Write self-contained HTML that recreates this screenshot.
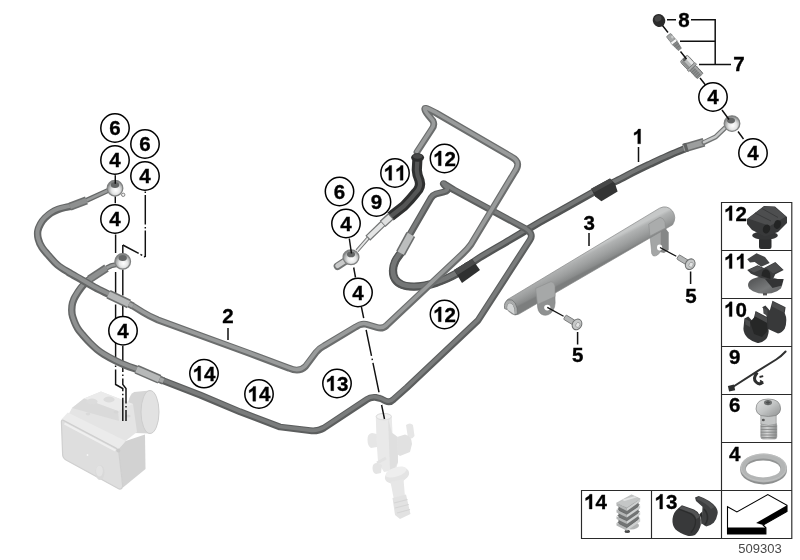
<!DOCTYPE html>
<html>
<head>
<meta charset="utf-8">
<style>
html,body{margin:0;padding:0;background:#fff;}
body{width:800px;height:560px;overflow:hidden;font-family:"Liberation Sans",sans-serif;}
svg{display:block;position:absolute;left:0;top:0;}
text{font-family:"Liberation Sans",sans-serif;}
#labels,#plabels{opacity:.999;}
.b{font-weight:bold;font-size:20.5px;fill:#000;text-anchor:middle;stroke:#000;stroke-width:.35;}
.c{fill:#fff;stroke:#000;stroke-width:1.5;}
.dd{stroke:#111;stroke-width:1.45;fill:none;stroke-dasharray:26 2.5 1.5 2.5;}
.ln{stroke:#111;stroke-width:1.5;fill:none;}
.po{fill:none;stroke:#6b6d6d;stroke-width:6.8;stroke-linecap:round;stroke-linejoin:round;}
.pi{fill:none;stroke:#999b9b;stroke-width:3.6;stroke-linecap:round;stroke-linejoin:round;}
.ho{fill:none;stroke:#525454;stroke-width:7.3;stroke-linecap:round;stroke-linejoin:round;}
.ho2{fill:none;stroke:#646666;stroke-width:7.4;stroke-linecap:round;stroke-linejoin:round;}
.hi{fill:none;stroke:#747676;stroke-width:3.8;stroke-linecap:round;stroke-linejoin:round;}
.hi2{fill:none;stroke:#8f9191;stroke-width:4;stroke-linecap:round;stroke-linejoin:round;}
.bo{fill:none;stroke:#2f3030;stroke-width:10.2;stroke-linecap:butt;stroke-linejoin:round;}
.bi{fill:none;stroke:#545555;stroke-width:4.2;stroke-linecap:butt;stroke-linejoin:round;}
.so{fill:none;stroke:#6c6e6e;stroke-width:9.4;stroke-linecap:butt;}
.si{fill:none;stroke:#b6b8b8;stroke-width:6.2;stroke-linecap:butt;}
.sd{fill:none;stroke:#8e9090;stroke-width:5;stroke-linecap:butt;}
.pn{fill:#fff;stroke:#2a2a2a;stroke-width:1.15;}
</style>
</head>
<body>
<svg width="800" height="560" viewBox="0 0 800 560">
<defs>
<!-- PATHS -->
<path id="pU" d="M133,306.2 L143,312.3 Q150,316.6 158,320 L200,335.4 L250,353.6 L289,368.2 Q299,372.8 305.5,366.5 L316,352.5 Q319,348.5 324,346 L355.5,327.2 Q361,323.2 366,324.3 L377,327.5 Q382.5,329.2 386.5,325.6 L462,254.5 Q467.5,249.5 471,244.5 L514.5,172.5 Q522,162.5 512,157.2 L436,113 L429,109.5 Q421,105.5 428,115 L433,121 Q435,125 432,129 L417,152"/>
<path id="pL" d="M160,379.5 L200,395 L240,411.8 L280,427 L310,430.7 Q318,431.6 324,428 L366.5,399.8 Q370.5,396.9 375.5,397.4 L381,398.8 L386,401.2 Q390,403 393.5,399.5 L407,387.5 L478,320.5 L530,240 Q534,234 526,229 L454,190 L446,185 Q440,181 447,188 Q449,191 444,192 L436,194 Q433,195 431,198 L409,236"/>
<path id="hA" d="M109.0,294.5 C106.7,293.3 99.5,289.9 95.0,287.5 C90.5,285.1 86.5,282.6 82.0,280.0 C77.5,277.4 72.1,274.5 68.0,272.0 C63.9,269.5 60.7,267.7 57.5,265.0 C54.3,262.3 51.6,258.9 49.0,256.0 C46.4,253.1 43.8,250.3 42.0,247.5 C40.2,244.7 39.0,241.8 38.3,239.0 C37.6,236.2 37.4,233.5 37.8,231.0 C38.2,228.5 39.3,226.2 40.5,224.0 C41.7,221.8 43.2,219.8 45.0,218.0 C46.8,216.2 48.8,214.4 51.0,213.0 C53.2,211.6 55.7,210.4 58.0,209.5 C60.3,208.6 62.8,208.0 65.0,207.5 C67.2,207.0 70.0,206.6 71.0,206.4"/>
<path id="hB" d="M137.0,369.5 C135.2,368.8 129.7,367.0 126.0,365.5 C122.3,364.0 118.7,362.4 115.0,360.5 C111.3,358.6 106.8,356.1 103.8,354.3 C100.8,352.5 99.3,351.4 97.0,349.5 C94.7,347.6 92.4,345.4 90.0,343.0 C87.6,340.6 84.8,337.3 82.8,335.0 C80.8,332.7 79.4,331.2 78.0,329.0 C76.6,326.8 75.5,324.5 74.5,322.0 C73.5,319.5 72.4,316.7 72.0,314.0 C71.6,311.3 71.7,308.5 72.0,306.0 C72.3,303.5 73.0,301.3 74.0,299.0 C75.0,296.7 76.4,294.6 77.9,292.3 C79.4,290.1 81.0,287.7 83.0,285.5 C85.0,283.3 88.8,280.1 90.0,279.0"/>
<path id="h1" d="M400.8,253.0 C399.9,254.4 396.5,258.5 395.2,261.4 C393.9,264.3 393.0,267.4 393.0,270.4 C393.0,273.4 393.6,277.0 395.2,279.4 C396.8,281.8 399.4,283.8 402.5,285.0 C405.6,286.2 409.9,286.6 413.7,286.7 C417.4,286.8 421.2,286.2 425.0,285.5 C428.8,284.8 432.4,283.9 436.2,282.7 C439.9,281.5 444.1,279.7 447.5,278.2 C450.9,276.7 453.1,275.7 456.5,273.7 C459.9,271.7 464.1,268.7 468.0,266.0 C471.9,263.3 473.0,261.9 480.0,257.5 C487.0,253.2 500.0,245.8 510.0,239.9 C520.0,234.0 531.7,227.0 540.0,222.2 C548.3,217.4 551.2,215.9 560.0,211.0 C568.8,206.1 585.2,196.7 592.5,192.7 C599.8,188.7 599.4,189.0 604.0,186.8 C608.6,184.6 614.8,181.9 620.0,179.3 C625.2,176.7 630.0,173.9 635.0,171.4 C640.0,168.9 644.7,166.7 650.0,164.2 C655.3,161.7 661.3,158.8 667.0,156.3 C672.7,153.8 681.2,150.4 684.0,149.2"/>
<path id="h1a" d="M400.8,253.0 C399.9,254.4 396.5,258.5 395.2,261.4 C393.9,264.3 393.0,267.4 393.0,270.4 C393.0,273.4 393.6,277.0 395.2,279.4 C396.8,281.8 399.4,283.8 402.5,285.0 C405.6,286.2 409.9,286.6 413.7,286.7 C417.4,286.8 421.2,286.2 425.0,285.5 C428.8,284.8 432.4,283.9 436.2,282.7 C439.9,281.5 444.1,279.7 447.5,278.2 C450.9,276.7 453.1,275.7 456.5,273.7 C459.9,271.7 466.1,267.3 468.0,266.0"/>
<path id="h11" d="M417.5,157 L416.8,170 Q417,175 419.5,180.5 Q421.5,187 416,192.5 Q410,200 404,206 L390.5,216.5"/>
</defs>
<rect width="800" height="560" fill="#fff"/>
<!--GHOST-->
<g id="ghost">
<!-- ABS unit -->
<path d="M134,392 L150,390.5 L150,433.5 L134,433 Z" fill="#d6d6d6"/>
<ellipse cx="135" cy="412.5" rx="8" ry="20.5" fill="#d6d6d6"/>
<ellipse cx="150" cy="412" rx="9" ry="21.5" fill="#e2e2e2" stroke="#cdcdcd" stroke-width="1"/>
<polygon points="72,408 84,398.5 101,391.5 133,404 137,432 119,446 66,419" fill="#e4e4e4"/>
<path d="M84,398.5 L101,391.5 L133,404 L118,411 Z" fill="#ebebeb"/>
<path d="M72,408 L84,398.5 L118,411 L119,421 Z" fill="#dadada"/>
<ellipse cx="92" cy="401.5" rx="5.5" ry="3" fill="#dcdcdc"/>
<ellipse cx="109" cy="399.5" rx="5.5" ry="3" fill="#dcdcdc"/>
<ellipse cx="100" cy="407" rx="2.6" ry="1.6" fill="#dadada"/>
<ellipse cx="116" cy="412" rx="2.6" ry="1.6" fill="#d6d6d6"/>
<ellipse cx="128" cy="416" rx="2.6" ry="1.6" fill="#d6d6d6"/>
<ellipse cx="88" cy="414" rx="2.4" ry="1.4" fill="#dadada"/>
<path d="M61.4,419.6 L67.8,412.4 L125.7,441 L118.2,449.6 Z" fill="#ebebeb"/>
<path d="M118.2,449.6 L125.7,441 L145,434.5 L145.5,469 L123,487.5 Z" fill="#d2d2d2"/>
<path d="M61.4,421.6 Q61.4,419.6 63.4,420.4 L116.5,448.4 Q118.6,449.6 118.8,452 L122.6,485 Q122.8,489.5 119,489 L66,460 Q62.6,458 62.6,454 Z" fill="#dedede" stroke="#cfcfcf" stroke-width="1.2"/>
<path d="M64.5,423.5 L115.5,450.5" stroke="#efefef" stroke-width="2" fill="none"/>
<ellipse cx="100" cy="472.5" rx="4.6" ry="7.6" fill="#d9d9d9"/>
<ellipse cx="99.4" cy="471" rx="3.4" ry="5.6" fill="#e3e3e3"/>
<circle cx="118.3" cy="450.6" r="2" fill="#cacaca"/>
<circle cx="87.5" cy="455" r=".9" fill="#f6f6f6"/>
<!-- master cylinder -->
<g>
<path d="M406,425 Q410,422 413,425 L414.5,436 Q412,440 408,438 Z" fill="#e6e6e6"/>
<path d="M397,437 L405,434.5 Q412,436 412,444 L410,452 L400,456 L397,454 Z" fill="#e1e1e1"/>
<path d="M367.5,440 Q367,434 372,433 L377,434 L377,447 L371,448 Q367.5,446 367.5,440 Z" fill="#e6e6e6"/>
<path d="M375.8,417 Q375.8,413.2 383.7,413.2 Q391.8,413.2 391.8,417 L392.5,433 L397.5,437 L398,462 L396,470 L384,472 L378,462 L376.5,440 Z" fill="#e9e9e9"/>
<path d="M388,418 L392,433 L397.5,437 L398,462 L394,470 L390,470 Z" fill="#dfdfdf"/>
<ellipse cx="383.8" cy="416.6" rx="7.6" ry="3.2" fill="#f3f3f3" stroke="#dcdcdc" stroke-width="1"/>
<path d="M372.5,468 Q372.5,463 377,463 L382,465 L381,473 L376,474 Q372.5,473 372.5,468 Z" fill="#e4e4e4"/>
<path d="M377,463 L386,458" stroke="#e2e2e2" stroke-width="3"/>
<ellipse cx="397" cy="475.5" rx="12.5" ry="7.5" fill="#e4e4e4" transform="rotate(-18 397 475.5)"/>
<ellipse cx="396" cy="472" rx="11" ry="4.6" fill="#eeeeee" transform="rotate(-18 396 472)"/>
<path d="M390.5,482 L403.5,479 L405,497 L394,500 Z" fill="#e7e7e7"/>
<path d="M392.5,498 L406,494.5 L410.5,514 L400,519 L395,515 Z" fill="#e2e2e2"/>
<path d="M394,503 L407.5,499.5 M395,508 L408.7,504.5 M397,513 L410,509.5" stroke="#d5d5d5" stroke-width="1.2"/>
</g>
</g>
<g id="backlines">
<path class="dd" d="M361.3,306.5L384.5,419" style="stroke-dasharray:50.5 2.8 1.5 2.8 60"/>
<path d="M363.7,318.2L366,329.8M378.5,392.4L381,405.2" stroke="#fff" stroke-width="3.5"/>
<path class="dd" d="M115.6,234.5V253M115.6,272V384.5L122.8,388.5V421"/>
<path class="dd" d="M122.8,245V255M122.8,269.5V316M122.8,346V384.5L126,388.5V421"/>
</g>
<!--PIPES-->
<g id="pipes">
<use href="#h1" class="ho"/><use href="#h1a" class="ho" style="stroke-width:8.3"/><use href="#h1" transform="translate(-.2,-.55)" class="hi"/><use href="#h1a" transform="translate(-.2,-.6)" class="hi" style="stroke-width:4.6"/>
<use href="#pL" class="po" style="stroke:#5c5e5e"/><use href="#pL" transform="translate(-.2,-.55)" class="pi" style="stroke:#7a7c7c"/>
<use href="#pU" class="po"/><use href="#pU" transform="translate(-.2,-.55)" class="pi"/>
<use href="#hB" class="ho2"/><use href="#hB" transform="translate(-.2,-.55)" class="hi2"/>
<use href="#hA" class="ho2"/><use href="#hA" transform="translate(-.2,-.55)" class="hi2"/>
<use href="#h11" class="bo"/><use href="#h11" class="bi"/>
</g>
<!--FITTINGS-->
<g id="fittings">
<!-- sleeves -->
<defs>
<radialGradient id="gBj" cx=".55" cy=".62" r=".58">
<stop offset="0" stop-color="#ffffff"/><stop offset=".45" stop-color="#e6e7e7"/><stop offset=".8" stop-color="#a9abab"/><stop offset="1" stop-color="#7e8080"/>
</radialGradient>
</defs>
<g>
<path d="M108.5,294.3 L129,304" class="so"/><path d="M108.5,294.3 L129,304" class="si"/>
<path d="M129,304 L133,306" stroke="#6c6e6e" stroke-width="7" fill="none"/><path d="M129,304 L133,306" stroke="#a4a6a6" stroke-width="4" fill="none"/>
<path d="M136.5,369.3 L159.5,379.3" class="so"/><path d="M136.5,369.3 L159.5,379.3" class="si"/>
<path d="M159.5,379.3 L163.5,381" stroke="#6c6e6e" stroke-width="7.4" fill="none"/><path d="M159.5,379.3 L163.5,381" stroke="#a4a6a6" stroke-width="4.4" fill="none"/>
<path d="M86.5,200.4 L70,206.6" class="so" style="stroke-width:8.2"/><path d="M86.5,200.4 L70,206.6" class="sd"/>
<path d="M106.5,268 L89.6,279.2" class="so" style="stroke-width:8.2"/><path d="M106.5,268 L89.6,279.2" class="sd"/>
<path d="M410.8,234.5 L400.6,253.2" class="so" style="stroke-width:10"/><path d="M410.8,234.5 L400.6,253.2" class="si" style="stroke-width:6.8;stroke:#bcbebe"/>
<path d="M683.5,148.3 L704,142.2" class="so" style="stroke-width:9"/><path d="M683.5,148.3 L704,142.2" class="sd" style="stroke:#9c9e9e;stroke-width:5.8"/><path d="M684.5,148 L687.5,147.1" class="so" style="stroke-width:9;stroke:#5f6161"/>
</g>
<!-- upper-left banjo (neck + ring) -->
<path d="M86.5,200.4 L108,190.5" stroke="#666868" stroke-width="5.2" fill="none"/>
<path d="M86.5,200.4 L108,190.5" stroke="#999b9b" stroke-width="2.6" fill="none"/>
<circle cx="123.2" cy="194.8" r="1.7" fill="#f2f2f2" stroke="#777" stroke-width=".9"/>
<circle cx="115" cy="188.3" r="7.8" fill="url(#gBj)" stroke="#808282" stroke-width="1.3"/>
<ellipse cx="115" cy="185" rx="4.2" ry="2.9" fill="#646666"/>
<!-- lower-left banjo -->
<path d="M106.5,268 L111,265.8 L117,264.5" stroke="#666868" stroke-width="5.2" fill="none" stroke-linejoin="round"/>
<path d="M106.5,268 L111,265.8 L117,264.5" stroke="#999b9b" stroke-width="2.6" fill="none" stroke-linejoin="round"/>
<circle cx="122.7" cy="261.4" r="7.8" fill="url(#gBj)" stroke="#808282" stroke-width="1.3"/>
<ellipse cx="122.7" cy="258" rx="4.2" ry="2.9" fill="#646666"/>
<!-- middle banjo (part 9 end) -->
<path d="M368,238.2 L357,250.8" stroke="#737575" stroke-width="3.8" fill="none"/>
<path d="M368,238.2 L357,250.8" stroke="#e3e4e4" stroke-width="1.8" fill="none"/>
<path d="M383.2,223.3 L367.8,238.2" stroke="#737575" stroke-width="7" fill="none"/>
<path d="M383.2,223.3 L368.6,237.4" stroke="#e4e5e5" stroke-width="4.6" fill="none"/>
<path d="M391,216.2 L382.6,223.9" stroke="#737575" stroke-width="8.4" fill="none"/>
<path d="M390.4,216.8 L383.2,223.3" stroke="#dfe0e0" stroke-width="5.8" fill="none"/>
<path d="M337.5,266.2 L347,260" stroke="#737575" stroke-width="7.6" fill="none" stroke-linecap="round"/>
<path d="M337.5,265.8 L347,259.6" stroke="#c9caca" stroke-width="4.6" fill="none" stroke-linecap="round"/>
<ellipse cx="351" cy="257.2" rx="7.9" ry="7.4" fill="url(#gBj)" stroke="#808282" stroke-width="1.3"/>
<ellipse cx="351" cy="254.4" rx="4" ry="2.8" fill="#646666"/>
<!-- right banjo (hose 1 end) -->
<path d="M704,142.4 L715.5,137 L727,126" stroke="#737575" stroke-width="5" fill="none" stroke-linecap="round" stroke-linejoin="round"/>
<path d="M704,142.2 L715.5,136.8 L727,125.8" stroke="#c6c8c8" stroke-width="2.4" fill="none" stroke-linecap="round" stroke-linejoin="round"/>
<circle cx="732" cy="123.6" r="7.8" fill="url(#gBj)" stroke="#808282" stroke-width="1.3"/>
<ellipse cx="731" cy="120.6" rx="4" ry="2.8" fill="#646666"/>
<!-- hose 11 top collar -->
<ellipse cx="417.6" cy="157.5" rx="6.5" ry="4.3" fill="#2c2d2d"/><ellipse cx="417.6" cy="156.3" rx="4.6" ry="2.4" fill="#484949"/>
<!-- black clips on hose 1 -->
<polygon points="454,270 472,259 480,270 462,283" fill="#2f3030"/>
<polygon points="454,270 472,259 475.5,263.5 457.5,275" fill="#4a4b4b"/>
<polygon points="591.2,188.8 610,178.6 615,183.5 617.6,191.4 601.4,201.3 595,196.4" fill="#333434"/>
<polygon points="591.2,188.8 610,178.6 613,182 594,192.5" fill="#474848"/>
<!-- top-right small parts -->
<ellipse cx="659" cy="20.5" rx="6.2" ry="6.6" fill="#2b2b2b" transform="rotate(-30 659 20.5)"/>
<ellipse cx="658" cy="18.5" rx="3.5" ry="3" fill="#454545" transform="rotate(-30 658 18.5)"/>
<g transform="translate(674.2,42.2) rotate(52)">
<rect x="-9.2" y="-2.8" width="7.4" height="5.6" rx="1" fill="#a4a6a6" stroke="#777979" stroke-width=".7"/>
<rect x="-6.5" y="-2.8" width="2.5" height="2.2" fill="#c9cbcb"/>
<rect x="-2" y="-3.1" width="3" height="6.2" fill="#f4f4f4" stroke="#8a8c8c" stroke-width=".6"/>
<path d="M1,-2.9 L9.2,-1.9 L9.2,1.9 L1,2.9 Z" fill="#858787" stroke="#6a6c6c" stroke-width=".6"/>
<path d="M3.5,-2.6v5.2M6,-2.3v4.6" stroke="#6a6c6c" stroke-width=".6"/>
</g>
<g transform="translate(691.75,67) rotate(47)">
<rect x="-12" y="-5" width="11.2" height="10" rx="2.2" fill="#b9bbbb" stroke="#666868" stroke-width=".8"/>
<rect x="-11" y="-4.3" width="9.6" height="3" fill="#e4e5e5"/>
<rect x="-11" y="1.6" width="9.6" height="2.8" fill="#8e9090"/>
<ellipse cx="-10.4" cy="0" rx="1.4" ry="2" fill="#5f6161"/>
<rect x="-1.2" y="-5.4" width="2.6" height="10.8" fill="#a9abab" stroke="#666868" stroke-width=".6"/>
<rect x="1.4" y="-4" width="11" height="8" rx="1" fill="#8c8e8e" stroke="#5f6161" stroke-width=".7"/>
<path d="M4,-4v8M6.2,-4v8M8.4,-4v8M10.6,-4v8" stroke="#666868" stroke-width=".7"/>
<rect x="1.8" y="-3.4" width="10.2" height="1.8" fill="#b0b2b2" opacity=".7"/>
</g>
</g>
<!--BRACKET-->
<g id="bracket">
<defs>
<linearGradient id="gB" gradientUnits="userSpaceOnUse" x1="586" y1="252" x2="594" y2="267.5">
<stop offset="0" stop-color="#c6c8c8"/><stop offset=".18" stop-color="#b0b2b2"/><stop offset=".6" stop-color="#9c9e9e"/><stop offset=".9" stop-color="#8a8c8c"/><stop offset="1" stop-color="#7c7e7e"/>
</linearGradient>
</defs>
<!-- tab lower parts (behind tube) -->
<path d="M537.5,296 L555,288 L555,299 Q556,308 551,313 Q546,317 541,314 Q537.5,311 537.5,306 Z" fill="#8f9191" stroke="#7f8181" stroke-width=".6"/>
<ellipse cx="547.3" cy="307.6" rx="3.1" ry="2.8" fill="#fff"/>
<path d="M660,222 L665,227.5 L668.7,232.5 L668.7,250 L664,253 L660,252 Z" fill="#858787"/>
<path d="M649,227 L661,221 L661,250.5 Q658,256.5 653.5,256 Q651,254.5 651.5,250 Z" fill="#a4a6a6" stroke="#8a8c8c" stroke-width=".6"/>
<ellipse cx="659.6" cy="247.6" rx="2.6" ry="3" fill="#fff"/>
<!-- main half-tube -->
<path d="M507.4,299.6 L659.5,208.2 Q667,204.5 672.5,211 Q677,217.5 672.6,224.8 L519,314 Q515,316.2 511.5,313.6 Q502,307 507.4,299.6 Z" fill="url(#gB)" stroke="#858787" stroke-width=".7"/>
<!-- left open end arch -->
<path d="M504.6,308.6 Q503.6,302 508,299.8 Q512.5,298.6 515.2,303 Q518,308 517.4,314 L514.6,314.6 Q515,309 513,305.2 Q511,302.6 508.6,303.6 Q506.6,305 507.4,309.6 Z" fill="#a9abab" stroke="#6f7171" stroke-width=".8"/>
<path d="M507.4,309.6 Q506.6,305 508.6,303.6 Q511,302.6 513,305.2 Q515,309 514.6,314.6 Z" fill="#d4d6d6"/>
<!-- tab upper parts wrapping the tube -->
<path d="M535.6,288.4 L551,281.6 Q554.5,282 555,286 L555,296.5 L537.5,304.5 Z" fill="#a6a8a8" stroke="#8d8f8f" stroke-width=".6"/>
<path d="M648.7,224 L660,217.3 Q663.5,218 665,222 L665.4,228 L650,236 Z" fill="#aaacac" stroke="#8d8f8f" stroke-width=".6"/>
<!-- screws -->
<g transform="translate(574.6,323) rotate(31)">
<rect x="-11.5" y="-2.5" width="11" height="5" rx="1" fill="#b4b6b6" stroke="#707272" stroke-width=".8"/>
<ellipse cx="2.8" cy="0" rx="4.6" ry="5.6" fill="#c6c8c8" stroke="#6d6f6f" stroke-width="1"/>
<ellipse cx="3.8" cy="0" rx="2" ry="2.6" fill="#e4e5e5" stroke="#8a8c8c" stroke-width=".6"/>
</g>
<g transform="translate(687.8,262.8) rotate(31)">
<rect x="-11.5" y="-2.5" width="11" height="5" rx="1" fill="#b4b6b6" stroke="#707272" stroke-width=".8"/>
<ellipse cx="2.8" cy="0" rx="4.6" ry="5.6" fill="#c6c8c8" stroke="#6d6f6f" stroke-width="1"/>
<ellipse cx="3.8" cy="0" rx="2" ry="2.6" fill="#e4e5e5" stroke="#8a8c8c" stroke-width=".6"/>
</g>
</g>
<!--LINES-->
<g id="lines">
<!-- leaders -->
<path class="ln" d="M638.5,147V162M228,328V340M589,233V246M690.6,271.5V284M577.6,332V344.6"/>
<path class="ln" d="M667,19.8H676M691,19.8H715.2V64.5M680,41.2H715.2M699,64.5H731"/>
<!-- dash-dot -->
<path class="dd" d="M115.3,175.2V183.8" style="stroke-dasharray:none"/>
<path class="dd" d="M115.3,196.6V203.2" style="stroke-dasharray:none"/>
<path class="dd" d="M145.3,191.5V257" style="stroke-dasharray:1.5 2 29.5 2.5"/>
<path class="dd" d="M145.3,257L122.8,245" style="stroke-dasharray:1.5 2 2 2 30"/>
<path class="dd" d="M349.3,238.5L351.5,253.5" style="stroke-dasharray:none"/>
<path class="dd" d="M353.7,267.5L355.5,277.5" style="stroke-dasharray:none"/>
<path class="dd" d="M662.5,25.5L668,32.5M680.5,51.5L686.5,59M700,78L705.5,85" style="stroke-dasharray:none"/>
<path class="dd" d="M722,110L729,119.5M738,131.5L743.5,139" style="stroke-dasharray:none"/>
<path class="ln" style="stroke-width:1.3" d="M547.3,307.4L563.6,316.3M660,247.5L676.3,256.3"/>
</g>
<!--LABELS-->
<g id="labels">
<circle cx="115" cy="128" r="14.2" class="c"/><text x="109.30" y="135.20" class="b" style="text-anchor:start">6</text>
<circle cx="115" cy="160" r="14.2" class="c"/><text x="109.30" y="167.20" class="b" style="text-anchor:start">4</text>
<circle cx="145" cy="144" r="14.2" class="c"/><text x="139.30" y="151.20" class="b" style="text-anchor:start">6</text>
<circle cx="145" cy="176" r="14.2" class="c"/><text x="139.30" y="183.20" class="b" style="text-anchor:start">4</text>
<circle cx="115" cy="219" r="14.2" class="c"/><text x="109.30" y="226.20" class="b" style="text-anchor:start">4</text>
<circle cx="123" cy="330.8" r="14.2" class="c"/><text x="117.30" y="338.00" class="b" style="text-anchor:start">4</text>
<circle cx="204" cy="373.6" r="14.2" class="c"/><path d="M806,0H525V1059Q371,915 162,846V1101Q272,1137 401,1237.5Q530,1338 578,1472H806Z" transform="translate(192.60,380.80) scale(0.01001,-0.01001)" fill="#000" stroke="#000" stroke-width="34"/><text x="204.00" y="380.80" class="b" style="text-anchor:start">4</text>
<circle cx="259" cy="394" r="14.2" class="c"/><path d="M806,0H525V1059Q371,915 162,846V1101Q272,1137 401,1237.5Q530,1338 578,1472H806Z" transform="translate(247.60,401.20) scale(0.01001,-0.01001)" fill="#000" stroke="#000" stroke-width="34"/><text x="259.00" y="401.20" class="b" style="text-anchor:start">4</text>
<circle cx="337" cy="383.5" r="14.2" class="c"/><path d="M806,0H525V1059Q371,915 162,846V1101Q272,1137 401,1237.5Q530,1338 578,1472H806Z" transform="translate(325.60,390.70) scale(0.01001,-0.01001)" fill="#000" stroke="#000" stroke-width="34"/><text x="337.00" y="390.70" class="b" style="text-anchor:start">3</text>
<circle cx="358" cy="292.5" r="14.2" class="c"/><text x="352.30" y="299.70" class="b" style="text-anchor:start">4</text>
<circle cx="346" cy="223.5" r="14.2" class="c"/><text x="340.30" y="230.70" class="b" style="text-anchor:start">4</text>
<circle cx="339.5" cy="191.5" r="14.2" class="c"/><text x="333.80" y="198.70" class="b" style="text-anchor:start">6</text>
<circle cx="376.5" cy="202" r="14.2" class="c"/><text x="370.80" y="209.20" class="b" style="text-anchor:start">9</text>
<circle cx="395" cy="173" r="14.2" class="c"/><path d="M806,0H525V1059Q371,915 162,846V1101Q272,1137 401,1237.5Q530,1338 578,1472H806Z" transform="translate(383.60,180.20) scale(0.01001,-0.01001)" fill="#000" stroke="#000" stroke-width="34"/><path d="M806,0H525V1059Q371,915 162,846V1101Q272,1137 401,1237.5Q530,1338 578,1472H806Z" transform="translate(395.00,180.20) scale(0.01001,-0.01001)" fill="#000" stroke="#000" stroke-width="34"/>
<circle cx="444.5" cy="158.5" r="14.2" class="c"/><path d="M806,0H525V1059Q371,915 162,846V1101Q272,1137 401,1237.5Q530,1338 578,1472H806Z" transform="translate(433.10,165.70) scale(0.01001,-0.01001)" fill="#000" stroke="#000" stroke-width="34"/><text x="444.50" y="165.70" class="b" style="text-anchor:start">2</text>
<circle cx="444.5" cy="314.5" r="14.2" class="c"/><path d="M806,0H525V1059Q371,915 162,846V1101Q272,1137 401,1237.5Q530,1338 578,1472H806Z" transform="translate(433.10,321.70) scale(0.01001,-0.01001)" fill="#000" stroke="#000" stroke-width="34"/><text x="444.50" y="321.70" class="b" style="text-anchor:start">2</text>
<circle cx="713" cy="97" r="14.2" class="c"/><text x="707.30" y="104.20" class="b" style="text-anchor:start">4</text>
<circle cx="753" cy="153" r="14.2" class="c"/><text x="747.30" y="160.20" class="b" style="text-anchor:start">4</text>
<path d="M806,0H525V1059Q371,915 162,846V1101Q272,1137 401,1237.5Q530,1338 578,1472H806Z" transform="translate(632.50,143.80) scale(0.01001,-0.01001)" fill="#000" stroke="#000" stroke-width="34"/>
<text x="222.30" y="323.20" class="b" style="text-anchor:start">2</text>
<text x="583.60" y="229.60" class="b" style="text-anchor:start">3</text>
<text x="685.30" y="303.20" class="b" style="text-anchor:start">5</text>
<text x="571.90" y="362.40" class="b" style="text-anchor:start">5</text>
<text x="733.30" y="71.00" class="b" style="text-anchor:start">7</text>
<text x="678.30" y="27.00" class="b" style="text-anchor:start">8</text>
<text x="760" y="552.5" font-size="13" fill="#484848" text-anchor="middle">509303</text>
</g>
<!--PANEL-->
<g id="panel">
<defs>
<linearGradient id="gDisc" x1="0" y1="0" x2="1" y2="1"><stop offset="0" stop-color="#4a4b4c"/><stop offset=".6" stop-color="#77797a"/><stop offset="1" stop-color="#5a5b5c"/></linearGradient>
<linearGradient id="gHead" x1="0" y1="0" x2="1" y2="1"><stop offset="0" stop-color="#e2e3e3"/><stop offset=".5" stop-color="#c2c4c4"/><stop offset="1" stop-color="#8f9191"/></linearGradient>
<linearGradient id="gThr" x1="0" y1="0" x2="1" y2="0"><stop offset="0" stop-color="#a2a4a4"/><stop offset=".4" stop-color="#d6d7d7"/><stop offset="1" stop-color="#8a8c8c"/></linearGradient>
</defs>
<path class="pn" d="M721.5,202.5 H791.8 V538.5 H581.5 V490.5 H721.5 Z"/>
<path class="ln" style="stroke:#2a2a2a;stroke-width:1.15" d="M721.5,250.5H792M721.5,298.5H792M721.5,346.5H792M721.5,394.5H792M721.5,442.5H792M721.5,490.5H792M651.5,490.5V538.5M721.5,490.5V538.5"/>
<g id="plabels"><path d="M806,0H525V1059Q371,915 162,846V1101Q272,1137 401,1237.5Q530,1338 578,1472H806Z" transform="translate(724.00,220.60) scale(0.01001,-0.01001)" fill="#000" stroke="#000" stroke-width="34"/><text x="735.40" y="220.60" class="b" style="text-anchor:start">2</text><path d="M806,0H525V1059Q371,915 162,846V1101Q272,1137 401,1237.5Q530,1338 578,1472H806Z" transform="translate(724.00,268.60) scale(0.01001,-0.01001)" fill="#000" stroke="#000" stroke-width="34"/><path d="M806,0H525V1059Q371,915 162,846V1101Q272,1137 401,1237.5Q530,1338 578,1472H806Z" transform="translate(735.40,268.60) scale(0.01001,-0.01001)" fill="#000" stroke="#000" stroke-width="34"/><path d="M806,0H525V1059Q371,915 162,846V1101Q272,1137 401,1237.5Q530,1338 578,1472H806Z" transform="translate(724.00,316.60) scale(0.01001,-0.01001)" fill="#000" stroke="#000" stroke-width="34"/><text x="735.40" y="316.60" class="b" style="text-anchor:start">0</text><text x="729.00" y="364.40" class="b" style="text-anchor:start">9</text><text x="729.00" y="412.40" class="b" style="text-anchor:start">6</text><text x="729.00" y="460.60" class="b" style="text-anchor:start">4</text><path d="M806,0H525V1059Q371,915 162,846V1101Q272,1137 401,1237.5Q530,1338 578,1472H806Z" transform="translate(584.00,509.00) scale(0.01001,-0.01001)" fill="#000" stroke="#000" stroke-width="34"/><text x="595.40" y="509.00" class="b" style="text-anchor:start">4</text><path d="M806,0H525V1059Q371,915 162,846V1101Q272,1137 401,1237.5Q530,1338 578,1472H806Z" transform="translate(654.50,509.00) scale(0.01001,-0.01001)" fill="#000" stroke="#000" stroke-width="34"/><text x="665.90" y="509.00" class="b" style="text-anchor:start">3</text></g>
<!-- 12 double clip -->
<g>
<rect x="759" y="238" width="12.5" height="11" rx="2" fill="#2c2d2e"/>
<ellipse cx="765" cy="235.5" rx="12.8" ry="4.2" fill="#343536"/>
<path d="M747,219 L764,206 L775,206.5 L787,217 L787,223 L778,232 L765,236.5 L752,230 L747,224 Z" fill="#38393a"/>
<path d="M748,218.5 L764,206.6 L774.5,207 L786,216.5 L770,226 Z" fill="#4d4e4f"/>
<path d="M755,213 L771,221 M762,208.5 L778,217.5" stroke="#3a3b3c" stroke-width="1"/>
<ellipse cx="766.5" cy="229" rx="3.6" ry="4.6" fill="#232424" transform="rotate(20 766.5 229)"/>
<ellipse cx="777.5" cy="224.5" rx="3.4" ry="4.4" fill="#232424" transform="rotate(20 777.5 224.5)"/>
</g>
<!-- 11 clip -->
<g>
<ellipse cx="765" cy="285" rx="17" ry="8.8" fill="url(#gDisc)"/>
<rect x="763" y="293" width="4" height="2.4" fill="#555"/>
<path d="M765,279 L783.7,279 L782,285.5 L772.5,288 Z" fill="#333435"/>
<path d="M747.2,259.2 L756.5,253.2 L765,257 L769.7,263 L761.2,266.7 L754.7,262 L750,262.4 Z" fill="#444546"/>
<path d="M747.2,270 L757.5,265.3 L764,268 L775.3,262 L783.7,270 L775.3,274.2 L772.5,280 L761.2,278 L751,273.8 Z" fill="#3c3d3e"/>
<path d="M749,269.8 L757.5,266 L763,268.5 L754,272.5 Z" fill="#515253"/>
<path d="M766,267.5 L775.3,262.8 L782,269.5 L773,273.5 Z" fill="#4c4d4e"/>
<path d="M761.5,276 Q762,268 767,269.5 Q771,271 770.5,279 Z" fill="#252626"/>
</g>
<!-- 10 clip -->
<g>
<path d="M762.2,307.2 L765.4,305.4 L769.8,310.4 L772.5,300.7 L785.6,307.2 L784.7,313 Q788,320 784.7,328.8 Q782,333 778,333.5 L768,329 L766,312 Z" fill="#38393a"/>
<path d="M772.5,301.5 L784.6,307.6 L783.8,312.5 L772,306.5 Z" fill="#4b4c4d"/>
<path d="M763,307.5 L767.5,310 L767.5,316 L763.5,313.5 Z" fill="#4b4c4d"/>
<path d="M744.4,318.5 L748.2,316.6 L753,321.6 L755.6,311 L767.8,317.6 L768.7,331.6 Q768,338 765,340 Q761,343.5 757.5,342.9 Q752,341.5 748,338.2 Q743.5,334 743.4,328.8 Z" fill="#343536"/>
<path d="M755.6,311.8 L767,318 L767,323 L755,316.8 Z" fill="#4a4b4c"/>
<path d="M745,318.8 L750,321.5 L750,327 L745.4,324.5 Z" fill="#4a4b4c"/>
<path d="M750,322 L755,316.5 L767,323 L767.5,331 L762,337 L754,334 Z" fill="#262727"/>
</g>
<!-- 9 cable tie -->
<g>
<path d="M731.2,388 L757.5,371.2 L776.2,359.5 Q781,356.5 785.6,351.5" fill="none" stroke="#303131" stroke-width="2" stroke-linecap="round"/>
<path d="M757.3,372.5 Q752.5,378.5 756,382 Q759.5,385.5 763,382.2" fill="none" stroke="#2d2e2e" stroke-width="3"/>
<path d="M759.5,377 L763.2,376.2 M760,380.5 L763,382.4" stroke="#2d2e2e" stroke-width="1.8"/>
<rect x="728.4" y="385.2" width="6.2" height="5.8" fill="#2d2e2e" transform="rotate(-12 731.5 388)"/>
</g>
<!-- 6 bolt -->
<g>
<rect x="760.8" y="423" width="16" height="16" rx="2.2" fill="url(#gThr)" stroke="#8a8c8c" stroke-width=".6"/>
<path d="M760.8,426.6h16M760.8,429.4h16M760.8,432.2h16M760.8,435h16M761.5,437.6h14.6" stroke="#838585" stroke-width=".9"/>
<path d="M760.8,414 H776.2 V424 Q768.5,427 760.8,424 Z" fill="#c4c6c6" stroke="#8a8c8c" stroke-width=".6"/>
<ellipse cx="763.3" cy="420" rx="1.5" ry="1.2" fill="#555"/>
<path d="M756,409 Q756,399 768.3,399 Q780.6,399 780.6,409 Q780.6,413 776,415.5 Q768.3,417.5 760.8,415.5 Q756,413 756,409 Z" fill="url(#gHead)" stroke="#7f8181" stroke-width=".7"/>
<ellipse cx="768" cy="402.6" rx="4" ry="2.7" fill="#6d6f6f"/>
<path d="M766,402.6h4M768,400.6v4" stroke="#4a4c4c" stroke-width="1"/>
</g>
<!-- 4 washer -->
<g>
<ellipse cx="763.6" cy="469.8" rx="23.4" ry="14.6" fill="#8d8f8f"/>
<ellipse cx="763.6" cy="468" rx="23.4" ry="14.4" fill="#b3b5b5"/>
<ellipse cx="763.6" cy="467.6" rx="22.4" ry="13.4" fill="none" stroke="#bfc1c1" stroke-width=".9"/>
<ellipse cx="763.1" cy="467.8" rx="17.6" ry="9.4" fill="#929494"/>
<ellipse cx="763.1" cy="468.9" rx="17.2" ry="8.5" fill="#fff"/>
</g>
<!-- arrow -->
<g>
<path d="M727.5,506.7 L736.9,511.9 L767.8,494.6 L787,505.3 L787,511.4 L763.1,525 L765.9,527.8 L765.9,533.9 L727.5,533.9 Z" fill="#fff" stroke="#000" stroke-width="1.1" stroke-linejoin="miter"/>
<path d="M727.5,527.4 L763.1,527.4 L765.9,527.8 L765.9,533.9 L727.5,533.9 Z" fill="#000"/>
<path d="M787,505.3 L787,511.4 L763.1,525 L756.1,523.1 Z" fill="#000"/>
</g>
<!-- 14 -->
<g>
<ellipse cx="631" cy="525.5" rx="8" ry="4" fill="#b4b6b6"/>
<ellipse cx="627.3" cy="531.4" rx="2.8" ry="1.7" fill="#4a4b4b"/>
<path d="M618.5,504 L626.9,508.1 L638.5,500 L638.5,520 L626.9,528.5 L618.5,524.5 Z" fill="#666868"/>
<path d="M617,522.2 L626.9,527.3 L640,518.0 L635,515.8 Z" fill="#727474"/>
<path d="M616.5,522.8 L626.9,527.9 L626.9,530.7 L616.5,525.6 Z" fill="#b4b6b6"/>
<path d="M626.9,527.9 L640.2,518.6 L640.2,521.4 L626.9,530.7 Z" fill="#cfd1d1"/>
<path d="M617,515.6 L626.9,520.7 L640,511.4 L635,509.2 Z" fill="#727474"/>
<path d="M616.5,516.2 L626.9,521.3 L626.9,524.1 L616.5,519.0 Z" fill="#b4b6b6"/>
<path d="M626.9,521.3 L640.2,512.0 L640.2,514.8 L626.9,524.1 Z" fill="#cfd1d1"/>
<path d="M617,509.0 L626.9,514.1 L640,504.8 L635,502.6 Z" fill="#727474"/>
<path d="M616.5,509.6 L626.9,514.7 L626.9,517.5 L616.5,512.4 Z" fill="#b4b6b6"/>
<path d="M626.9,514.7 L640.2,505.4 L640.2,508.2 L626.9,517.5 Z" fill="#cfd1d1"/>
<path d="M616.5,503.0 L626.9,508.1 L626.9,510.9 L616.5,505.8 Z" fill="#b4b6b6"/>
<path d="M626.9,508.1 L640.2,498.8 L640.2,501.6 L626.9,510.9 Z" fill="#cfd1d1"/>
<path d="M616.5,503 L631.5,494.8 L640.2,498.8 L626.9,508.1 Z" fill="#c4c6c6" stroke="#a0a2a2" stroke-width=".4"/>
<path d="M622,499.8 L634.5,496.2 L637,497.2 L624.5,501 Z" fill="#e2e3e3"/>
</g>
<!-- 13 -->
<g>
<path d="M695,497.4 L698.7,496 Q710,500 715.6,506.7 Q718.5,511 717.5,514.2 Q716.5,519.5 713.7,522.7 Q710,526 706.2,526.4 L701.6,523.6 L702.5,506.7 L696,501.1 Z" fill="#3e3f40"/>
<path d="M698.7,496.6 Q709,500.5 714.6,506.9 L711,509 Q706,503 696.8,499.6 Z" fill="#505152"/>
<path d="M704,509 Q708,513 707.5,519 Q707,523 704.5,525" fill="none" stroke="#2c2d2d" stroke-width="1.6"/>
<path d="M672.5,519 Q673.5,512 678.1,508.6 L681.9,505.3 L694,509.6 Q698,511.5 699.7,515.2 Q701.5,520 700.6,525.5 Q699,531.5 695,534.9 Q691.5,536.5 687.5,535.8 Q680,533.5 675.3,529.2 Q672,525 672.5,519 Z" fill="#38393a"/>
<path d="M682,506 L693.6,510.3 Q698,512.5 699.5,517 L696.5,519 Q695,514.5 691,512.8 L679.5,508.6 Z" fill="#525354"/>
<path d="M678.5,509 L690,513.5 Q694.5,515.5 695.5,520 Q696,527 691,532.5" fill="none" stroke="#2b2c2c" stroke-width="1.2"/>
<path d="M699.2,514.4 L702.3,511.5 L701.6,523.6 L700.6,525.5 Q701.5,518 699.7,515.2 Z" fill="#2a2b2b"/>
</g>
</g>
</svg>
</body>
</html>
